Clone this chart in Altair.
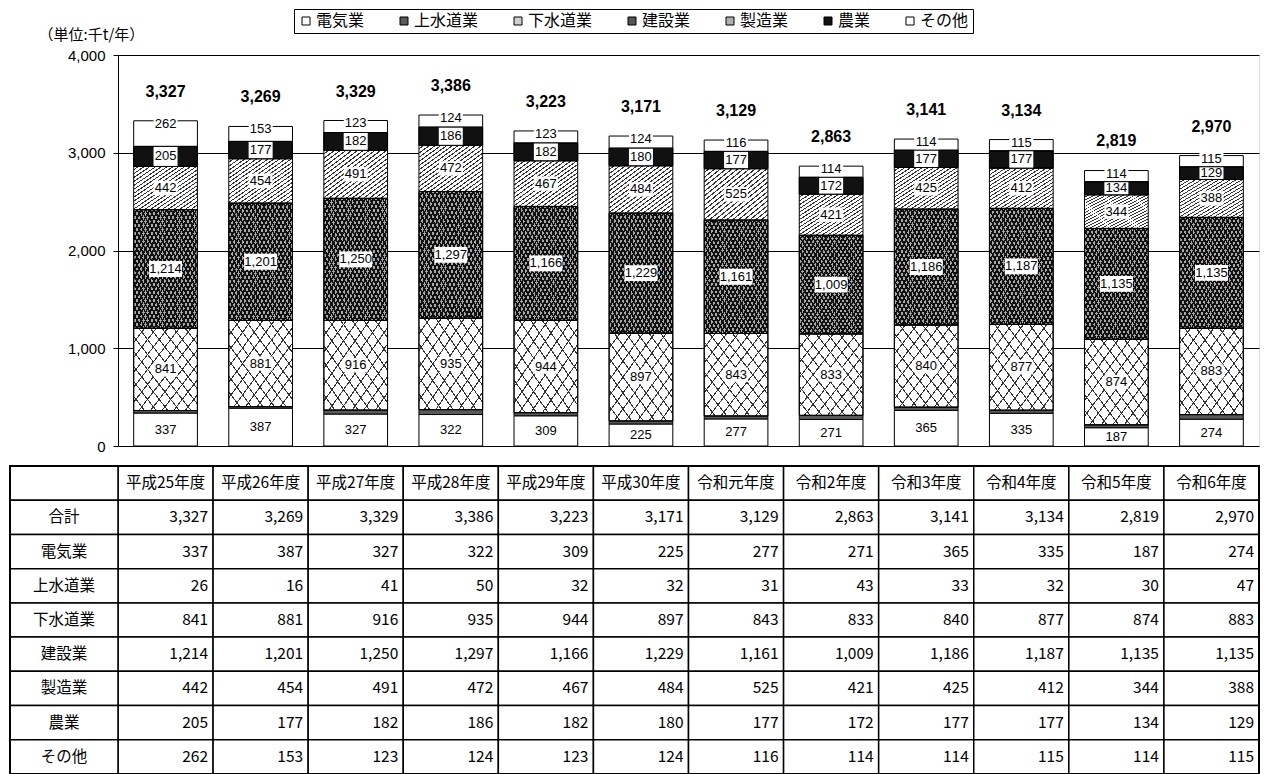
import altair as alt
import pandas as pd

years = ["平成25年度", "平成26年度", "平成27年度", "平成28年度", "平成29年度", "平成30年度",
         "令和元年度", "令和2年度", "令和3年度", "令和4年度", "令和5年度", "令和6年度"]
cats = ["電気業", "上水道業", "下水道業", "建設業", "製造業", "農業", "その他"]
totals = [3327, 3269, 3329, 3386, 3223, 3171, 3129, 2863, 3141, 3134, 2819, 2970]
denki = [337, 387, 327, 322, 309, 225, 277, 271, 365, 335, 187, 274]
josui = [26, 16, 41, 50, 32, 32, 31, 43, 33, 32, 30, 47]
gesui = [841, 881, 916, 935, 944, 897, 843, 833, 840, 877, 874, 883]
kensetsu = [1214, 1201, 1250, 1297, 1166, 1229, 1161, 1009, 1186, 1187, 1135, 1135]
seizo = [442, 454, 491, 472, 467, 484, 525, 421, 425, 412, 344, 388]
nogyo = [205, 177, 182, 186, 182, 180, 177, 172, 177, 177, 134, 129]
sonota = [262, 153, 123, 124, 123, 124, 116, 114, 114, 115, 114, 115]
series = [denki, josui, gesui, kensetsu, seizo, nogyo, sonota]
y_ticks = [0, 1000, 2000, 3000, 4000]
unit_label = "（単位:千t/年）"
row_labels = ["合計"] + cats

rows = []
for ci, (c, vals) in enumerate(zip(cats, series)):
    for yi, (yr, v) in enumerate(zip(years, vals)):
        rows.append({"year": yr, "cat": c, "value": v, "order": ci})
df = pd.DataFrame(rows)
df_tot = pd.DataFrame({"year": years, "total": totals})

W, H = 1141, 391
TW, TH = 1141, 308
LABW = 108

JP = "Noto Sans CJK JP"
LAT = "Liberation Sans"


def stripes(base, line, n, frac, direction):
    stops = []
    for i in range(n):
        a = i / n
        b = a + (1 - frac) / n
        c = (i + 1) / n
        stops += [(a, base), (b, base), (b, line), (c, line)]
    if direction == "/":
        x1, y1, x2, y2 = 0, 0, 1, 1
    else:
        x1, y1, x2, y2 = 0, 1, 1, 0
    return alt.LinearGradient(
        gradient="linear",
        stops=[alt.GradientStop(offset=round(o, 5), color=col) for o, col in stops],
        x1=x1, y1=y1, x2=x2, y2=y2)


CLEAR = "rgba(0,0,0,0)"

xs = alt.Scale(domain=years, paddingInner=0.33, paddingOuter=0.165)
ys = alt.Scale(domain=[0, 4000], nice=False)
X = alt.X("year:N", sort=years, scale=xs, axis=None)
yaxis = alt.Axis(values=y_ticks, format=",d", title=unit_label, titleAngle=0,
                 titleAlign="left", titleBaseline="middle", titleX=-80, titleY=-21,
                 titleFont=JP, titleFontSize=15, titleFontWeight="normal", titleColor="black",
                 labelFont=LAT, labelFontSize=15, labelColor="black", labelPadding=8,
                 tickSize=5, tickColor="black", domainColor="black",
                 grid=True, gridColor="black", gridWidth=1)

base = alt.Chart(df).transform_stack(
    stack="value", groupby=["year"], as_=["v0", "v1"],
    sort=[alt.SortField("order", order="ascending")]
).transform_calculate(mid="(datum.v0 + datum.v1) / 2")


def seg(cat, fill, stroke="black", sw=1):
    return base.transform_filter(alt.datum.cat == cat).mark_bar(
        fill=fill, stroke=stroke, strokeWidth=sw
    ).encode(x=X, y=alt.Y("v0:Q", scale=ys, axis=yaxis), y2="v1:Q")


layers = [
    seg("電気業", "white"),
    seg("上水道業", "#5a5a5a"),
    seg("下水道業", stripes("white", "#333", 11, 0.11, "/")),
    seg("下水道業", stripes(CLEAR, "#333", 11, 0.11, "\\"), stroke=CLEAR, sw=0),
    seg("建設業", stripes("#a8a8a8", "#111", 30, 0.42, "/")),
    seg("建設業", stripes(CLEAR, "#111", 30, 0.42, "\\"), stroke=CLEAR, sw=0),
    seg("製造業", stripes("white", "#333", 22, 0.3, "/")),
    seg("農業", "#111"),
    seg("その他", "white"),
]

for c in ["下水道業", "建設業"]:
    layers.append(base.transform_filter(alt.datum.cat == c).mark_bar(
        fill=CLEAR, stroke="black", strokeWidth=1
    ).encode(x=X, y=alt.Y("v0:Q", scale=ys, axis=yaxis), y2="v1:Q"))

layers.append(base.transform_filter(alt.datum.cat == "農業").mark_bar(
    width=24, fill="white", stroke=CLEAR
).encode(x=X, y=alt.Y("v0:Q", scale=ys, axis=yaxis), y2="v1:Q"))
layers.append(base.transform_filter(alt.datum.cat == "農業").mark_bar(
    fill=CLEAR, stroke="black", strokeWidth=1
).encode(x=X, y=alt.Y("v0:Q", scale=ys, axis=yaxis), y2="v1:Q"))

box3 = "M-1,-0.6L1,-0.6L1,0.6L-1,0.6Z"
box4 = "M-1,-0.48L1,-0.48L1,0.48L-1,0.48Z"

mid_cats3 = ["電気業", "下水道業", "製造業"]
layers.append(base.transform_filter(alt.FieldOneOfPredicate(field="cat", oneOf=mid_cats3)).mark_point(
    shape=box3, size=576, filled=True, fill="white", opacity=1
).encode(x=X, y=alt.Y("mid:Q", scale=ys, axis=yaxis)))
layers.append(base.transform_filter(alt.datum.cat == "建設業").mark_point(
    shape=box4, size=1089, filled=True, fill="white", opacity=1
).encode(x=X, y=alt.Y("mid:Q", scale=ys, axis=yaxis)))
layers.append(base.transform_filter(alt.datum.cat == "その他").mark_point(
    shape=box3, size=576, filled=True, fill="white", opacity=1, yOffset=3
).encode(x=X, y=alt.Y("v1:Q", scale=ys, axis=yaxis)))

layers.append(base.transform_filter(
    alt.FieldOneOfPredicate(field="cat", oneOf=["電気業", "下水道業", "建設業", "製造業", "農業"])
).mark_text(font=LAT, fontSize=13, color="black", baseline="middle").encode(
    x=X, y=alt.Y("mid:Q", scale=ys, axis=yaxis), text=alt.Text("value:Q", format=",d")))
layers.append(base.transform_filter(alt.datum.cat == "その他").mark_text(
    font=LAT, fontSize=13, color="black", baseline="middle", dy=3).encode(
    x=X, y=alt.Y("v1:Q", scale=ys, axis=yaxis), text=alt.Text("value:Q", format=",d")))

layers.append(alt.Chart(df_tot).mark_text(
    font=LAT, fontSize=16, fontWeight="bold", color="black", baseline="middle", dy=-29
).encode(x=X, y=alt.Y("total:Q", scale=ys, axis=yaxis), text=alt.Text("total:Q", format=",d")))

legend_colors = ["white", "#5a5a5a", "#cfcfcf", "#555555", "#b0b0b0", "#111111", "white"]
layers.append(alt.Chart(df).transform_filter("false").mark_bar().encode(
    x=X, y=alt.Y("value:Q", scale=ys, axis=yaxis),
    fill=alt.Fill("cat:N", sort=cats, scale=alt.Scale(domain=cats, range=legend_colors),
                  legend=alt.Legend(orient="none", legendX=176, legendY=-46, direction="horizontal",
                                    title=None, strokeColor="black", padding=4,
                                    labelFont=JP, labelFontSize=16, labelColor="black",
                                    symbolType="square", symbolSize=64, symbolStrokeColor="black",
                                    symbolStrokeWidth=1, symbolOpacity=1, columnPadding=31,
                                    labelOffset=2))))

bar_chart = alt.layer(*layers).properties(width=W, height=H)

# ---- data table ----
trows = []
for yi, yr in enumerate(years):
    trows.append({"row": "_h", "year": yr, "text": yr, "hdr": 1})
    trows.append({"row": "合計", "year": yr, "text": f"{totals[yi]:,}", "hdr": 0})
    for c, vals in zip(cats, series):
        trows.append({"row": c, "year": yr, "text": f"{vals[yi]:,}", "hdr": 0})
tdf = pd.DataFrame(trows)
row_dom = ["_h"] + row_labels
ldf = pd.DataFrame({"row": row_dom, "label": [""] + row_labels})

tx = alt.Scale(domain=years, paddingInner=0, paddingOuter=0)
ty = alt.Scale(domain=row_dom, paddingInner=0, paddingOuter=0)
TXE = alt.X("year:N", sort=years, scale=tx, axis=None)
TYE = alt.Y("row:N", sort=row_dom, scale=ty, axis=None)

cells = alt.Chart(tdf).mark_rect(fill="white", stroke="black", strokeWidth=1.5).encode(x=TXE, y=TYE)
hdr_text = alt.Chart(tdf).transform_filter(alt.datum.hdr == 1).mark_text(
    font=JP, fontSize=15.5, color="black", baseline="middle").encode(x=TXE, y=TYE, text="text:N")
num_text = alt.Chart(tdf).transform_filter(alt.datum.hdr == 0).mark_text(
    font=JP, fontSize=15.5, color="black", baseline="middle", align="right", dx=-5).encode(
    x=alt.X("year:N", sort=years, scale=tx, axis=None, bandPosition=1), y=TYE, text="text:N")
lab_cells = alt.Chart(ldf).mark_rect(fill="white", stroke="black", strokeWidth=1.5).encode(
    x=alt.value(-LABW), x2=alt.value(0), y=TYE)
lab_text = alt.Chart(ldf).mark_text(font=JP, fontSize=15.5, color="black", baseline="middle").encode(
    x=alt.value(-LABW / 2), y=TYE, text="label:N")
outer = alt.Chart(ldf.head(1)).mark_rect(fill=CLEAR, stroke="black", strokeWidth=2).encode(
    x=alt.value(-LABW), x2=alt.value(TW), y=alt.value(0), y2=alt.value(TH))

table = alt.layer(cells, lab_cells, hdr_text, num_text, lab_text, outer).properties(width=TW, height=TH)

chart = alt.vconcat(bar_chart, table, spacing=9).properties(
    padding={"left": 0, "top": 0, "right": 0, "bottom": 0}
).configure_view(stroke="black", strokeWidth=1).configure(background="white")

chart.save("out.html", embed_options={"renderer": "svg", "actions": False})
